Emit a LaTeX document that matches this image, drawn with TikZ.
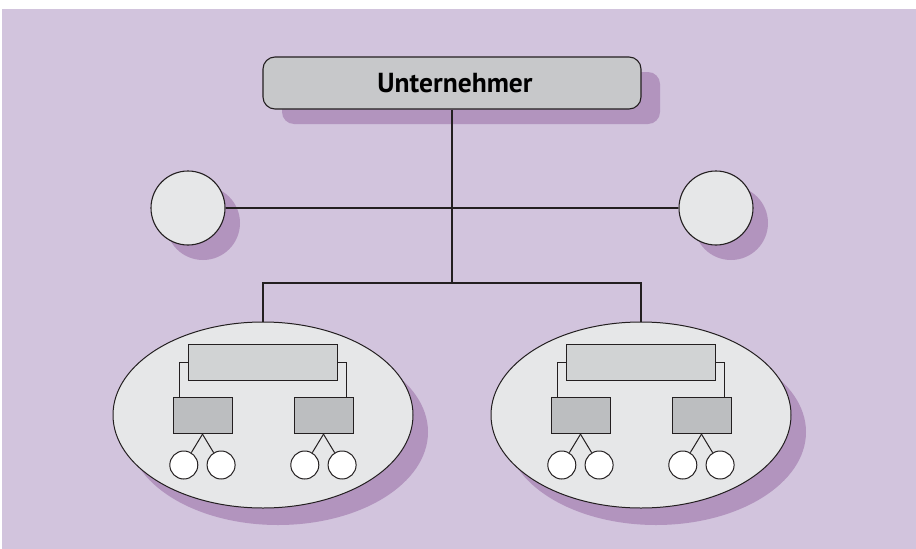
\documentclass[tikz,border=0pt]{standalone}
\usepackage{fontspec}
\setmainfont{PT Sans}
\usepackage{tikz}
\usetikzlibrary{calc,positioning,shapes.geometric,shadows}
\definecolor{hintergrund}{HTML}{D2C4DD}
\definecolor{schattenfarbe}{HTML}{B294BE}
\definecolor{linie}{HTML}{231F20}
\definecolor{boxgrau}{HTML}{C7C8CA}
\definecolor{hellgrau}{HTML}{E6E7E8}
\definecolor{mittelgrau}{HTML}{D1D3D4}
\definecolor{dunkelgrau}{HTML}{BCBEC0}
\tikzset{
  schatten/.style 2 args={
      drop shadow={shadow xshift=#1, shadow yshift=-#2,
                   fill=schattenfarbe, opacity=1}
  },
  chef/.style={
      draw=linie,
      line width=1.1pt,
      fill=boxgrau,
      rounded corners=12pt,
      minimum width=378pt,
      minimum height=52pt,
      font=\bfseries\fontsize{27.5}{32}\selectfont,
      schatten={19pt}{15pt},
  },
  stab/.style={
      circle,
      draw=linie,
      line width=1.1pt,
      fill=hellgrau,
      minimum size=74pt,
      inner sep=0pt,
      schatten={15pt}{15pt},
  },
  einheit/.style={
      ellipse,
      draw=linie,
      line width=1pt,
      fill=hellgrau,
      minimum width=300pt,
      minimum height=186pt,
      inner sep=0pt,
      schatten={15pt}{17pt},
  },
  leitung/.style={
      draw=linie,
      line width=1pt,
      fill=mittelgrau,
      minimum width=149pt,
      minimum height=36pt,
      inner sep=0pt
  },
  abt/.style={
      draw=linie,
      line width=1pt,
      fill=dunkelgrau,
      minimum width=59pt,
      minimum height=36pt,
      inner sep=0pt
  },
  stelle/.style={
      circle,
      draw=linie,
      line width=1pt,
      fill=white,
      minimum size=28pt,
      inner sep=0pt
  },
  verbindung/.style={
      draw=linie,
      line width=1.1pt
  }
}
% one department: ellipse with its own small chart
\newcommand{\abteilung}[2]{
  \node[einheit] (#1) at (#2,415) {};
  \node[leitung] (#1leit) at ($(#1)+(0,-52.5)$) {};
  \node[abt] (#1a) at ($(#1)+(-60.5,0.7)$) {};
  \node[abt] (#1b) at ($(#1)+(60.5,0.7)$) {};
  \node[stelle] (#1a1) at ($(#1a)+(-18.7,49.3)$) {};
  \node[stelle] (#1a2) at ($(#1a)+(18.6,49.3)$) {};
  \node[stelle] (#1b1) at ($(#1b)+(-18.7,49.3)$) {};
  \node[stelle] (#1b2) at ($(#1b)+(18.6,49.3)$) {};
  \draw[verbindung, line width=1pt] (#1leit.west) -| ([xshift=7pt]#1a.north west);
  \draw[verbindung, line width=1pt] (#1leit.east) -| ([xshift=-7pt]#1b.north east);
  \draw[verbindung, line width=1pt] (#1a.south) -- (#1a1);
  \draw[verbindung, line width=1pt] (#1a.south) -- (#1a2);
  \draw[verbindung, line width=1pt] (#1b.south) -- (#1b1);
  \draw[verbindung, line width=1pt] (#1b.south) -- (#1b2);
}

\begin{document}
\begin{tikzpicture}[x=1pt, y=-1pt]
  \useasboundingbox (0,0) rectangle (916,549);
  \fill[hintergrund] (2,9) rectangle (916,549);

  \node[chef] (unternehmer) at (452,83) {\hspace{6pt}Unternehmer};
  \node[stab] (stabL) at (188,208) {};
  \node[stab] (stabR) at (716,208) {};
  \coordinate (verteiler) at (452,283);

  \abteilung{abtL}{263}
  \abteilung{abtR}{641}

  \draw[verbindung] (stabL.east) -- (stabR.west);
  \draw[verbindung] (unternehmer.south) -- (verteiler);
  \draw[verbindung] (abtL.north) |- (verteiler) -| (abtR.north);
\end{tikzpicture}
\end{document}
